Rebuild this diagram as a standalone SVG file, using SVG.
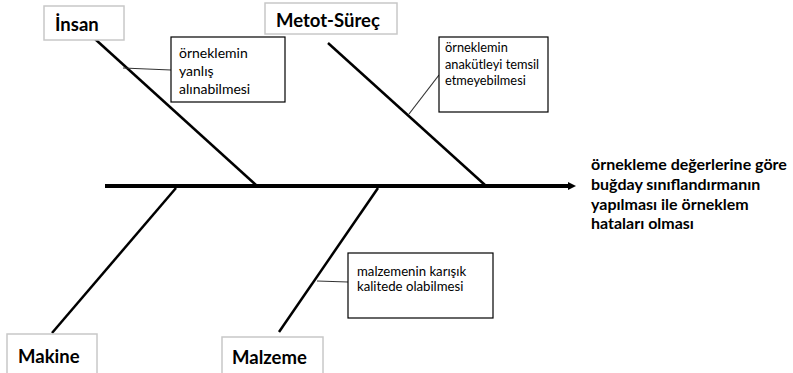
<svg xmlns="http://www.w3.org/2000/svg" width="793" height="373" viewBox="0 0 793 373">
  <defs>
    <style>
      .cat rect { fill: #fff; stroke: #c8c8c8; stroke-width: 1.5; }
      .cat text { font-family: Lato, "Liberation Sans", sans-serif; font-weight: bold; font-size: 18.5px; fill: #000; }
      .note rect { fill: #fff; stroke: #000; stroke-width: 1.2; }
      .note text { font-family: Lato, "Liberation Sans", sans-serif; fill: #000; }
      .bone { stroke: #000; stroke-width: 2.5; fill: none; }
      .spine { stroke: #000; stroke-width: 4; fill: none; }
      .tie { stroke: #333; stroke-width: 1.2; fill: none; }
      .effect { font-family: Lato, "Liberation Sans", sans-serif; font-weight: bold; font-size: 16px; fill: #000; }
    </style>
    <marker id="head" viewBox="0 0 6 6" refX="3" refY="3" markerWidth="2" markerHeight="2" orient="auto">
      <path d="M0,0 L6,3 L0,6 z" fill="#000"/>
    </marker>
  </defs>

  <rect width="793" height="373" fill="#fff"/>

  <!-- spine, bones and ties -->
  <g id="connectors">
    <line class="spine" x1="105" y1="186" x2="572" y2="186" marker-end="url(#head)"/>
    <line class="bone" x1="95" y1="39" x2="256" y2="185"/>
    <line class="bone" x1="328" y1="43" x2="485" y2="185"/>
    <line class="bone" x1="176" y1="188" x2="52" y2="333"/>
    <line class="bone" x1="378" y1="188" x2="279" y2="332"/>
    <line class="tie" x1="123" y1="68" x2="171" y2="70"/>
    <line class="tie" x1="409" y1="114" x2="439" y2="75"/>
    <line class="tie" x1="317" y1="281" x2="348" y2="282"/>
  </g>

  <g id="insan" class="cat">
    <rect x="44" y="6" width="80" height="34"/>
    <text x="55" y="31">İnsan</text>
  </g>
  <g id="metot" class="cat">
    <rect x="265" y="3" width="132" height="31"/>
    <text x="276" y="27">Metot-Süreç</text>
  </g>
  <g id="makine" class="cat">
    <rect x="7" y="334" width="90" height="45"/>
    <text x="18" y="363">Makine</text>
  </g>
  <g id="malzeme" class="cat">
    <rect x="222" y="337" width="101" height="45"/>
    <text x="232" y="364">Malzeme</text>
  </g>

  <g id="note-yanlis" class="note" font-size="14">
    <rect x="171" y="37" width="114" height="65"/>
    <text x="179" y="58">örneklemin</text>
    <text x="179" y="76">yanlış</text>
    <text x="179" y="94">alınabilmesi</text>
  </g>
  <g id="note-temsil" class="note" font-size="12.8">
    <rect x="439" y="37" width="109" height="75"/>
    <text x="445" y="52">örneklemin</text>
    <text x="445" y="69">anakütleyi temsil</text>
    <text x="445" y="85">etmeyebilmesi</text>
  </g>
  <g id="note-kalite" class="note" font-size="13.2">
    <rect x="348" y="253" width="145" height="65"/>
    <text x="357" y="276">malzemenin karışık</text>
    <text x="357" y="291">kalitede olabilmesi</text>
  </g>

  <g id="effect">
    <text class="effect" x="591" y="170">örnekleme değerlerine göre</text>
    <text class="effect" x="591" y="190">buğday sınıflandırmanın</text>
    <text class="effect" x="591" y="210">yapılması ile örneklem</text>
    <text class="effect" x="591" y="229">hataları olması</text>
  </g>
</svg>
